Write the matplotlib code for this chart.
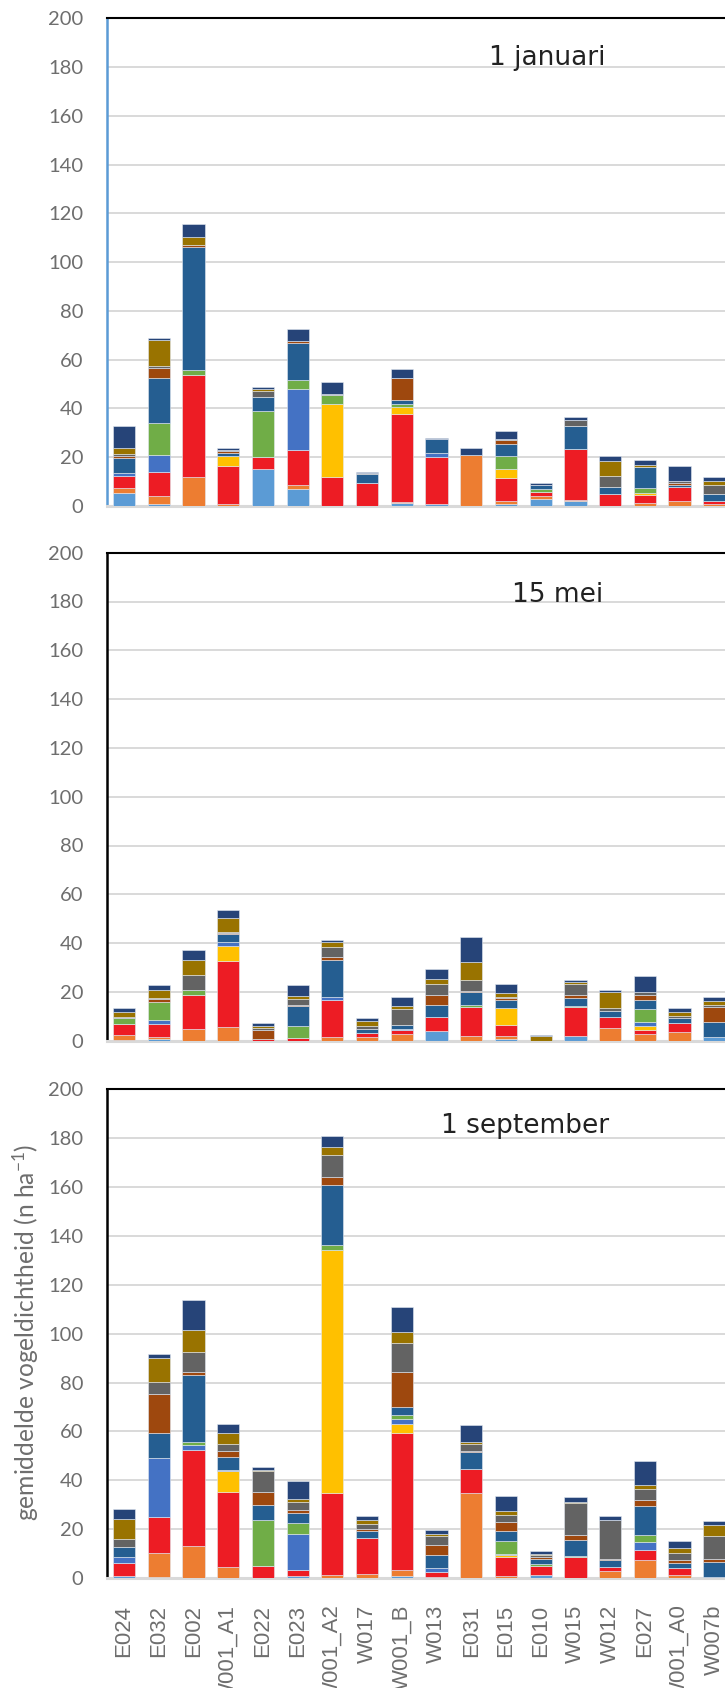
import numpy as np
import matplotlib
matplotlib.use('Agg')
import matplotlib.pyplot as plt

# locations on the x axis
locaties = ['E024', 'E032', 'E002', 'W001_A1', 'E022', 'E023', 'W001_A2', 'W017',
            'W001_B', 'W013', 'E031', 'E015', 'E010', 'W015', 'W012', 'E027',
            'W001_A0', 'W007b']

# stack order bottom -> top, with the colours used in the original
reeksen = ['lichtblauw', 'oranje', 'rood', 'geel', 'middenblauw', 'groen',
           'donkerblauw', 'bruin', 'grijs', 'olijf', 'marine']
kleuren = ['#5B9BD5', '#ED7D31', '#ED1C24', '#FFC000', '#4472C4', '#70AD47',
           '#255E91', '#9E480E', '#636363', '#997300', '#264478']

# 1 januari
jan_lichtblauw = [5.2, 1.0, 0, 0, 15.0, 6.8, 0, 0, 1.1, 0.7, 0, 0.8, 3.0, 2.2, 0, 0, 0, 0]
jan_oranje = [2.0, 2.9, 12.0, 0.8, 0, 2.0, 0, 0, 0.5, 0, 21.0, 1.2, 1.0, 0.4, 0, 1.2, 2.2, 0.8]
jan_rood = [5.1, 10.2, 41.9, 15.6, 5.2, 14.1, 12.0, 9.6, 36.2, 19.3, 0, 9.6, 1.9, 20.9, 4.8, 3.4, 5.7, 1.4]
jan_geel = [0, 0, 0, 4.2, 0, 0, 29.9, 0, 2.6, 0, 0, 3.6, 0, 0, 0, 0.8, 0, 0]
jan_middenblauw = [1.1, 6.8, 0, 0, 0, 25.1, 0, 0, 0, 1.8, 0, 0, 0, 0, 0, 0, 0, 0]
jan_groen = [0, 13.3, 1.8, 0, 18.7, 3.6, 3.6, 0, 1.6, 0, 0, 5.1, 1.0, 0, 0, 1.8, 0, 0]
jan_donkerblauw = [6.4, 18.2, 50.5, 1.0, 5.7, 15.3, 0, 3.4, 1.4, 5.7, 0, 5.2, 1.6, 9.3, 3.1, 8.6, 0.7, 2.6]
jan_bruin = [0.6, 4.1, 0.7, 1.0, 0, 0.8, 0, 0, 9.2, 0, 0, 1.6, 0, 0, 0, 0, 0.7, 0]
jan_grijs = [0.9, 1.1, 0, 0.5, 2.7, 0, 0.5, 0.7, 0, 0, 0, 0.3, 0, 2.3, 4.5, 0, 1.0, 3.8]
jan_olijf = [2.6, 10.5, 3.3, 0, 0.5, 0, 0, 0, 0, 0, 0, 0, 0, 0, 6.0, 1.0, 0, 1.6]
jan_marine = [9.0, 0.8, 5.6, 0.5, 1.0, 4.9, 4.8, 0.3, 3.6, 0.3, 2.9, 3.3, 0.8, 1.2, 2.3, 2.0, 5.9, 1.6]

# 15 mei
mei_lichtblauw = [0.4, 0.5, 0, 0, 0, 0, 0, 0, 0, 4.0, 0, 0.5, 0, 1.9, 0, 0, 0, 1.4]
mei_oranje = [2.0, 1.1, 4.6, 5.5, 0, 0, 1.6, 1.5, 2.7, 0, 2.0, 1.6, 0, 0, 5.1, 2.9, 3.7, 0]
mei_rood = [4.6, 5.1, 14.3, 27.0, 0.5, 1.0, 15.2, 1.5, 1.6, 5.6, 12.0, 4.5, 0, 12.0, 4.5, 1.5, 3.4, 0]
mei_geel = [0, 0, 0, 6.4, 0, 0, 0, 0, 0, 0, 0, 7.0, 0, 0, 0, 1.8, 0, 0]
mei_middenblauw = [0, 1.6, 0, 1.6, 0, 0, 1.2, 0, 0.7, 0, 0, 0, 0, 0, 0, 1.6, 0, 0]
mei_groen = [2.3, 7.5, 1.9, 0, 0, 5.2, 0, 0, 0, 0, 0.7, 0, 0, 0.5, 0, 5.1, 0, 0]
mei_donkerblauw = [0, 0, 0, 3.1, 0.4, 7.9, 15.0, 1.6, 1.4, 5.1, 5.3, 3.0, 0, 3.3, 2.5, 3.8, 2.0, 6.4]
mei_bruin = [0, 1.1, 0, 0.4, 3.4, 0.7, 1.1, 0, 0, 4.0, 0.5, 0.7, 0, 1.0, 0, 1.9, 0, 6.2]
mei_grijs = [0.4, 0.8, 6.0, 0.4, 1.1, 2.2, 4.5, 1.5, 6.7, 4.5, 4.5, 0.8, 0, 4.4, 1.4, 1.2, 1.0, 0.5]
mei_olijf = [1.9, 3.1, 6.1, 5.7, 0.7, 1.4, 2.0, 2.0, 1.1, 1.9, 7.1, 1.4, 2.0, 1.1, 6.6, 0, 1.8, 1.8]
mei_marine = [1.6, 1.9, 4.1, 3.3, 1.2, 4.5, 0.7, 1.2, 3.6, 4.2, 10.5, 3.7, 0.3, 0.7, 0.5, 6.8, 1.5, 1.8]

# 1 september
sep_lichtblauw = [1.0, 0.4, 0, 0, 0, 1.0, 0, 0, 0.9, 0.3, 0, 0, 1.2, 0, 0, 0, 0, 0]
sep_oranje = [0, 9.8, 13.1, 4.4, 0, 0, 1.5, 1.8, 2.3, 0, 34.8, 0.7, 0, 0, 3.0, 7.5, 1.5, 0]
sep_rood = [5.2, 14.7, 39.3, 30.8, 5.0, 2.3, 33.3, 14.5, 56.1, 2.2, 9.7, 7.8, 3.7, 8.6, 1.6, 4.0, 2.7, 0]
sep_geel = [0, 0, 0, 8.5, 0, 0, 99.3, 0, 3.9, 0, 0, 1.0, 0, 0, 0, 0, 0, 0]
sep_middenblauw = [2.4, 24.2, 1.9, 0.6, 0, 14.6, 0, 0, 1.9, 1.6, 0, 0.5, 0, 0, 0, 3.3, 0, 0.4]
sep_groen = [0, 0, 1.2, 0, 18.8, 4.7, 2.3, 0, 1.8, 0, 0, 5.2, 1.1, 0.5, 0, 2.9, 0, 0]
sep_donkerblauw = [4.1, 10.4, 27.7, 5.3, 6.3, 3.9, 24.4, 3.2, 3.2, 5.5, 7.0, 4.2, 1.8, 6.6, 2.9, 11.9, 2.2, 6.4]
sep_bruin = [0, 15.8, 1.2, 2.5, 5.1, 1.3, 3.2, 0.7, 14.3, 4.1, 0.7, 3.6, 0.8, 2.0, 0.4, 2.3, 1.2, 1.1]
sep_grijs = [3.2, 5.0, 8.3, 2.9, 8.6, 3.4, 9.2, 2.0, 11.7, 3.7, 2.5, 2.7, 0.7, 13.0, 15.8, 4.5, 2.7, 9.2]
sep_olijf = [8.2, 9.6, 8.9, 4.4, 0.6, 1.2, 3.2, 1.5, 4.4, 0.7, 1.1, 1.8, 0.7, 0.5, 0, 1.6, 2.2, 4.6]
sep_marine = [4.2, 1.8, 12.1, 3.5, 1.2, 7.3, 4.4, 1.6, 10.5, 1.6, 6.8, 6.0, 1.0, 2.2, 1.9, 10.1, 2.7, 1.6]

panels = [
    ('1 januari', [jan_lichtblauw, jan_oranje, jan_rood, jan_geel, jan_middenblauw, jan_groen,
                   jan_donkerblauw, jan_bruin, jan_grijs, jan_olijf, jan_marine]),
    ('15 mei', [mei_lichtblauw, mei_oranje, mei_rood, mei_geel, mei_middenblauw, mei_groen,
                mei_donkerblauw, mei_bruin, mei_grijs, mei_olijf, mei_marine]),
    ('1 september', [sep_lichtblauw, sep_oranje, sep_rood, sep_geel, sep_middenblauw, sep_groen,
                     sep_donkerblauw, sep_bruin, sep_grijs, sep_olijf, sep_marine]),
]

# use the text font inside $...$ too (for the ha^-1 superscript)
plt.rcParams['mathtext.default'] = 'regular'

W, H = 725, 1688
fig = plt.figure(figsize=(W / 100, H / 100), dpi=100)

# axes boxes in pixels (left, bottom of the 0 line, top of the 200 line)
ax_left = 106.7
ax_width = 18 * 34.72
boxes = [(506.0, 18.3), (1040.7, 552.7), (1578.2, 1089.1)]
title_pos = [(12.2, 181), (12.5, 180), (11.55, 182)]
left_spine = ['#5B9BD5', 'black', 'black']

x = np.arange(len(locaties))
tick_grey = '#6e6e6e'

for i, (titel, reeks_data) in enumerate(panels):
    y0, y200 = boxes[i]
    ax = fig.add_axes([ax_left / W, (H - y0) / H, ax_width / W, (y0 - y200) / H])
    bottom = np.zeros(len(locaties))
    for naam, kleur, waarden in zip(reeksen, kleuren, reeks_data):
        waarden = np.array(waarden)
        ax.bar(x, waarden, 0.64, bottom=bottom, color=kleur, label=naam,
               edgecolor='#e3e9f2', linewidth=0.4, zorder=3)
        bottom += waarden

    ax.set_xlim(-0.5, len(locaties) - 0.5)
    ax.set_ylim(0, 200)
    ax.set_yticks(np.arange(0, 201, 20))
    ax.yaxis.grid(True, color='#d9d9d9', linewidth=1.4, zorder=0)
    ax.set_axisbelow(True)
    ax.tick_params(axis='y', length=0, pad=17, labelsize=14.5, labelcolor=tick_grey)
    for lab in ax.get_yticklabels():
        lab.set_fontfamily('Lato')

    ax.spines['left'].set_color(left_spine[i])
    ax.spines['left'].set_linewidth(1.8)
    ax.spines['top'].set_color('black')
    ax.spines['top'].set_linewidth(1.5)
    ax.spines['right'].set_visible(False)
    ax.spines['bottom'].set_color('#d9d9d9')
    ax.spines['bottom'].set_linewidth(2.2)

    ax.text(title_pos[i][0], title_pos[i][1], titel, ha='center', va='baseline',
            fontsize=19, color='#222222', family='DejaVu Sans')

    if i == 2:
        ax.set_xticks(x)
        ax.set_xticklabels(locaties, rotation=90, fontsize=16, color=tick_grey,
                           family='Liberation Sans')
        ax.tick_params(axis='x', length=0, pad=19)
    else:
        ax.set_xticks([])

fig.text(26 / W, (H - 1332) / H, 'gemiddelde vogeldichtheid (n ha$^{-1}$)',
         rotation=90, ha='center', va='center', fontsize=17.7, color=tick_grey,
         family='Lato')

fig.savefig('out.png', dpi=100)
